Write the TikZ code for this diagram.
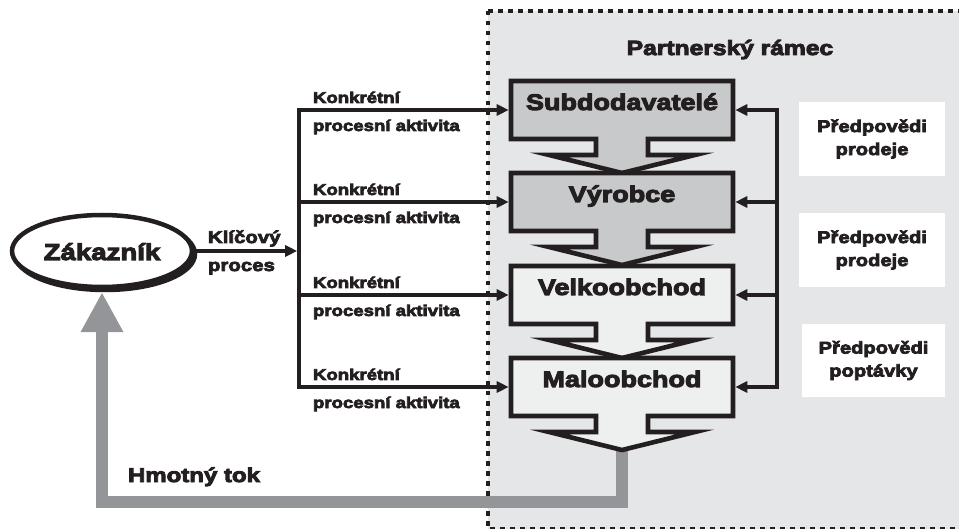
\documentclass[tikz,border=0pt]{standalone}
\usepackage{fontspec}
\newfontfamily\dfont{Liberation Sans}[FakeStretch=1.2,FakeBold=4.5]
\usetikzlibrary{arrows.meta,calc,shapes.geometric}

\definecolor{frameBg}{HTML}{E5E6E8}
\definecolor{upperFill}{HTML}{C8C9CB}
\definecolor{lowerFill}{HTML}{EEEFEF}
\definecolor{flowGray}{HTML}{939598}
\definecolor{ink}{HTML}{231F20}

% box with a downward chevron hanging below it
\newcommand{\chevronblock}[2]{%
  \path[blockline, fill=#2] (#1.north west) -- (#1.north east) -- (#1.south east)
    -- ($(#1.south)+(26,0)$) -- ++(0,16) -- ++(47,0) -- ($(#1.south)+(0,34)$)
    -- ($(#1.south)+(-73,16)$) -- ++(47,0) -- ++(0,-16) -- (#1.south west) -- cycle;}

\begin{document}
\begin{tikzpicture}[x=1pt,y=-1pt,line join=miter,
  txt/.style={text=ink, inner sep=0pt, outer sep=0pt},
  big/.style={txt, font=\dfont\bfseries\fontsize{22.5}{27}\selectfont},
  small/.style={txt, font=\dfont\bfseries\fontsize{15.5}{19}\selectfont},
  blockbox/.style={rectangle, minimum width=222pt, minimum height=58pt, inner sep=0pt, outer sep=0pt},
  blockline/.style={draw=ink, line width=4.6pt, line join=miter},
  conn/.style={draw=ink, line width=3.6pt},
  arr/.style={conn, -{Triangle[length=12pt,width=11pt]}},
  note/.style={fill=white, inner sep=0pt, align=center, text=ink,
    font=\dfont\bfseries\fontsize{16.8}{23}\selectfont},
  flow/.style={draw=flowGray, line width=12pt, line join=miter,
    -{Triangle[length=40pt,width=40pt]}},
  dotline/.style={draw=ink, line width=4.5pt, dash pattern=on 4.5pt off 5.5pt},
]
\clip (0,0) rectangle (959,529);

% partner frame
\fill[frameBg] (488,11) rectangle (975,529);
\draw[dotline] (488,11) -- (975,11);
\draw[dotline] (488,11) -- (488,529) -- (975,529);
\node[txt, font=\dfont\bfseries\fontsize{20.5}{24}\selectfont, anchor=base] (title) at (730,55) {Partnerský rámec};

% customer
\node[ellipse, fill=ink, draw=ink, line width=4.5pt, minimum width=180pt, minimum height=72pt, inner sep=0pt] (zakShade) at (105,254) {};
\node[ellipse, fill=white, draw=ink, line width=4.5pt, minimum width=180pt, minimum height=72pt, inner sep=0pt] (zak) at (102,251) {};
\node[txt, font=\dfont\bfseries\fontsize{23}{27}\selectfont, anchor=base] (zakT) at ($(zak.center)+(0,9)$) {Zákazník};

% chain members
\node[blockbox] (sub)  at (622,110) {};
\node[blockbox] (vyr)  at (622,202) {};
\node[blockbox] (vel)  at (622,295) {};
\node[blockbox] (malo) at (622,387) {};

% material flow back to the customer
\coordinate (malotip) at ($(malo.south)+(0,33)$);
\draw[flow, shorten >=3pt] (malotip) -- ++(0,53) -| (zak.south);
\node[txt, font=\dfont\bfseries\fontsize{20}{24}\selectfont, anchor=base west] (tok) at (128,482) {Hmotný tok};

\chevronblock{sub}{upperFill}
\chevronblock{vyr}{upperFill}
\chevronblock{vel}{lowerFill}
\chevronblock{malo}{lowerFill}

\node[big, anchor=base] (subT)  at (sub.center)  {Subdodavatelé};
\node[big, anchor=base] (vyrT)  at (vyr.center)  {Výrobce};
\node[big, anchor=base] (velT)  at (vel.center)  {Velkoobchod};
\node[big, anchor=base] (maloT) at (malo.center) {Maloobchod};

% key process and activities
\coordinate (lsp) at (299,0);
\draw[conn, line cap=rect] (lsp |- sub.west) -- (lsp |- malo.west);
\draw[arr, shorten >=1.8pt] (zak.east) -- (zak.east -| lsp);
\node[txt, font=\dfont\bfseries\fontsize{17}{20}\selectfont, anchor=base west] (kp1) at (208,243) {Klíčový};
\node[txt, font=\dfont\bfseries\fontsize{17}{20}\selectfont, anchor=base west] (kp2) at (208,271) {proces};

\foreach \b in {sub,vyr,vel,malo}{
  \draw[arr, shorten >=2.3pt] (lsp |- \b.west) -- (\b.west);
  \node[small, anchor=base west] (\b A) at ($(lsp |- \b.west)+(14,-7)$) {Konkrétní};
  \node[small, anchor=base west] (\b B) at ($(lsp |- \b.west)+(14,21)$) {procesní aktivita};
}

% forecast feedback
\coordinate (rsp) at (777,0);
\draw[conn, line cap=rect] (rsp |- sub.east) -- (rsp |- malo.east);
\foreach \b in {sub,vyr,vel,malo}{
  \draw[arr, shorten >=2.3pt] (rsp |- \b.east) -- (\b.east);
}

\node[note, minimum width=146pt, minimum height=74pt] (n1) at (872,139) {Předpovědi\\prodeje};
\node[note, minimum width=146pt, minimum height=74pt] (n2) at (872,250) {Předpovědi\\prodeje};
\node[note, minimum width=143pt, minimum height=73pt] (n3) at (873.5,360.5) {Předpovědi\\poptávky};
\end{tikzpicture}
\end{document}
